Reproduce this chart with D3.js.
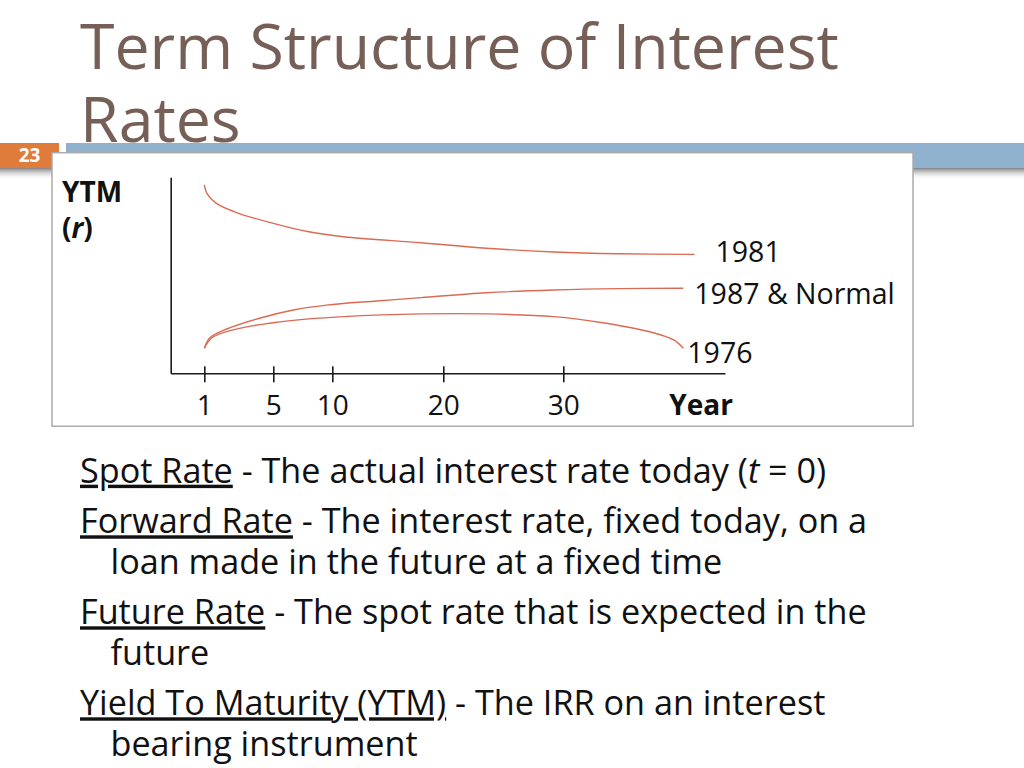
<!DOCTYPE html>
<html>
<head>
<meta charset="utf-8">
<title>Term Structure of Interest Rates</title>
<script src="https://d3js.org/d3.v7.min.js"></script>
<style>
    body { margin: 0; background: #fff; }
    svg { display: block; font-family: "Open Sans", "Noto Sans", sans-serif; }
    .axis path, .axis line { stroke: #1a1a1a; stroke-width: 1.6; }
    .axis text { font-size: 28px; fill: #111; font-family: "Open Sans", sans-serif; }
    .curve { fill: none; stroke: #dc6a52; stroke-width: 1.4; }
</style>
</head>
<body>
<div id="slide"></div>
<script>
// maturities shown on the x axis
const tickYears = [1, 5, 10, 20, 30];

// yield curves (maturity in years, YTM in arbitrary units 0-10)
const years1981 = [1, 1.15, 1.7, 3, 5, 8, 11, 18, 23.6, 29.2, 34.7, 40.7];
const ytm1981   = [9.61, 9.18, 8.67, 8.16, 7.65, 7.22, 6.97, 6.66, 6.38, 6.19, 6.10, 6.07];
const years1987 = [1, 1.33, 2.3, 4.2, 6.7, 9.5, 14, 18, 23.6, 29.2, 34.7, 40];
const ytm1987   = [1.28, 1.82, 2.26, 2.81, 3.23, 3.48, 3.69, 3.86, 4.11, 4.25, 4.32, 4.34];
const years1976 = [1, 1.5, 3.3, 6.7, 11, 18, 23.6, 29.2, 33.3, 37.5, 39.2, 40];
const ytm1976   = [1.28, 1.85, 2.34, 2.70, 2.89, 3.03, 3.03, 2.89, 2.58, 2.07, 1.70, 1.28];
const curveNames = ["1981", "1987 & Normal", "1976"];

// slide text
const titleLines = ["Term Structure of Interest", "Rates"];
const terms = ["Spot Rate", "Forward Rate", "Future Rate", "Yield To Maturity (YTM)"];
const definitions = [
    [" - The actual interest rate today (_t_ = 0)"],
    [" - The interest rate, fixed today, on a", "loan made in the future at a fixed time"],
    [" - The spot rate that is expected in the", "future"],
    [" - The IRR on an interest", "bearing instrument"]
];

const width = 1024, height = 768;

const svg = d3.select("#slide")
    .append("svg")
    .attr("width", width)
    .attr("height", height);

const defs = svg.append("defs");
const shadow = defs.append("linearGradient")
    .attr("id", "shadow")
    .attr("x1", "0%").attr("y1", "0%")
    .attr("x2", "0%").attr("y2", "100%");
shadow.append("stop").attr("offset", "0%").attr("stop-color", "#6b6b6b").attr("stop-opacity", 0.85);
shadow.append("stop").attr("offset", "100%").attr("stop-color", "#ffffff").attr("stop-opacity", 0);

// title, one text element with a tspan per line
svg.append("text")
    .attr("font-size", 62.6)
    .attr("fill", "#765f57")
    .selectAll("tspan")
    .data(titleLines)
    .enter()
    .append("tspan")
    .attr("x", 80)
    .attr("y", (d, i) => 68.5 + i * 73.4)
    .text(d => d);

// header bars with their shadows
svg.append("rect").attr("x", 0).attr("y", 168).attr("width", 59).attr("height", 12).attr("fill", "url(#shadow)");
svg.append("rect").attr("x", 66).attr("y", 168).attr("width", width - 66).attr("height", 12).attr("fill", "url(#shadow)");
svg.append("rect").attr("x", 0).attr("y", 143).attr("width", 59).attr("height", 25).attr("fill", "#e07c3b");
svg.append("rect").attr("x", 66).attr("y", 143).attr("width", width - 66).attr("height", 25).attr("fill", "#8fb1cd");
svg.append("text")
    .attr("x", 29.5)
    .attr("y", 161.5)
    .attr("text-anchor", "middle")
    .attr("font-size", 19)
    .attr("font-weight", "bold")
    .attr("fill", "#fff")
    .text("23");

// chart box
svg.append("rect")
    .attr("x", 52)
    .attr("y", 152.7)
    .attr("width", 861)
    .attr("height", 273.5)
    .attr("fill", "#fff")
    .attr("stroke", "#ababab")
    .attr("stroke-width", 1.5);

const plotLeft = 170.7, plotTop = 177.3, plotBottom = 373.3;
const plotWidth = 554.3;

const chart = svg.append("g")
    .attr("transform", `translate(${plotLeft},0)`);

// the original axis is schematic, so the maturity scale is piecewise linear
const xScale = d3.scaleLinear()
    .domain([0, 1, 5, 10, 20, 30, 40, 42.6])
    .range([0, 33.6, 102.6, 161.6, 272.6, 392.6, 512.6, plotWidth]);

const yScale = d3.scaleLinear()
    .domain([0, 10])
    .range([plotBottom, plotTop]);

const xAxis = chart.append("g")
    .attr("class", "axis")
    .attr("transform", `translate(0,${plotBottom})`)
    .call(d3.axisBottom(xScale).tickValues(tickYears).tickSizeOuter(0).tickFormat(d3.format("d")));

xAxis.selectAll(".tick line")
    .attr("y1", -7)
    .attr("y2", 9);

xAxis.selectAll(".tick text")
    .attr("y", 41.5)
    .attr("dy", 0);

chart.append("g")
    .attr("class", "axis")
    .call(d3.axisLeft(yScale).tickValues([]).tickSizeOuter(0));

// curves
const series = [
    { name: curveNames[0], years: years1981, ytm: ytm1981 },
    { name: curveNames[1], years: years1987, ytm: ytm1987 },
    { name: curveNames[2], years: years1976, ytm: ytm1976 }
];

const line = d3.line()
    .x(d => xScale(d[0]))
    .y(d => yScale(d[1]))
    .curve(d3.curveCatmullRom.alpha(0.5));

chart.selectAll(".curve")
    .data(series)
    .enter()
    .append("path")
    .attr("class", "curve")
    .attr("d", d => line(d.years.map((yr, i) => [yr, d.ytm[i]])));

// curve labels sit just right of each curve's end
const labelOffsets = [[21, 7.5], [11, 16], [4, 15]];
chart.selectAll(".curve-label")
    .data(series)
    .enter()
    .append("text")
    .attr("class", "curve-label")
    .attr("x", (d, i) => xScale(d.years[d.years.length - 1]) + labelOffsets[i][0])
    .attr("y", (d, i) => yScale(d.ytm[d.ytm.length - 1]) + labelOffsets[i][1])
    .attr("font-size", 28.5)
    .attr("fill", "#111")
    .text(d => d.name);

// axis titles
const yTitle = svg.append("text")
    .attr("x", 62)
    .attr("font-size", 28)
    .attr("font-weight", "bold")
    .attr("fill", "#111");
yTitle.append("tspan").attr("x", 62).attr("y", 202).text("YTM");
yTitle.append("tspan").attr("x", 62).attr("y", 238).text("(");
yTitle.append("tspan").attr("font-style", "italic").text("r");
yTitle.append("tspan").text(")");

chart.append("text")
    .attr("x", 498.5)
    .attr("y", 414.5)
    .attr("font-size", 28)
    .attr("font-weight", "bold")
    .attr("fill", "#111")
    .text("Year");

// definitions below the chart, one text element per item
const body = svg.append("g")
    .attr("font-size", 34.2)
    .attr("fill", "#111");

let baseline = 482.7;
terms.forEach((term, i) => {
    const t = body.append("text");
    definitions[i].forEach((lineText, j) => {
        if (j === 0) {
            t.append("tspan")
                .attr("x", 80)
                .attr("y", baseline)
                .style("text-decoration", "underline")
                .text(term);
        }
        lineText.split("_").forEach((part, k) => {
            const s = t.append("tspan")
                .attr("font-style", k % 2 === 1 ? "italic" : null)
                .text(part);
            if (j > 0 && k === 0) s.attr("x", 110.5).attr("y", baseline);
        });
        baseline += j < definitions[i].length - 1 ? 40.4 : 0;
    });
    baseline += 50.6;
});
</script>
</body>
</html>
